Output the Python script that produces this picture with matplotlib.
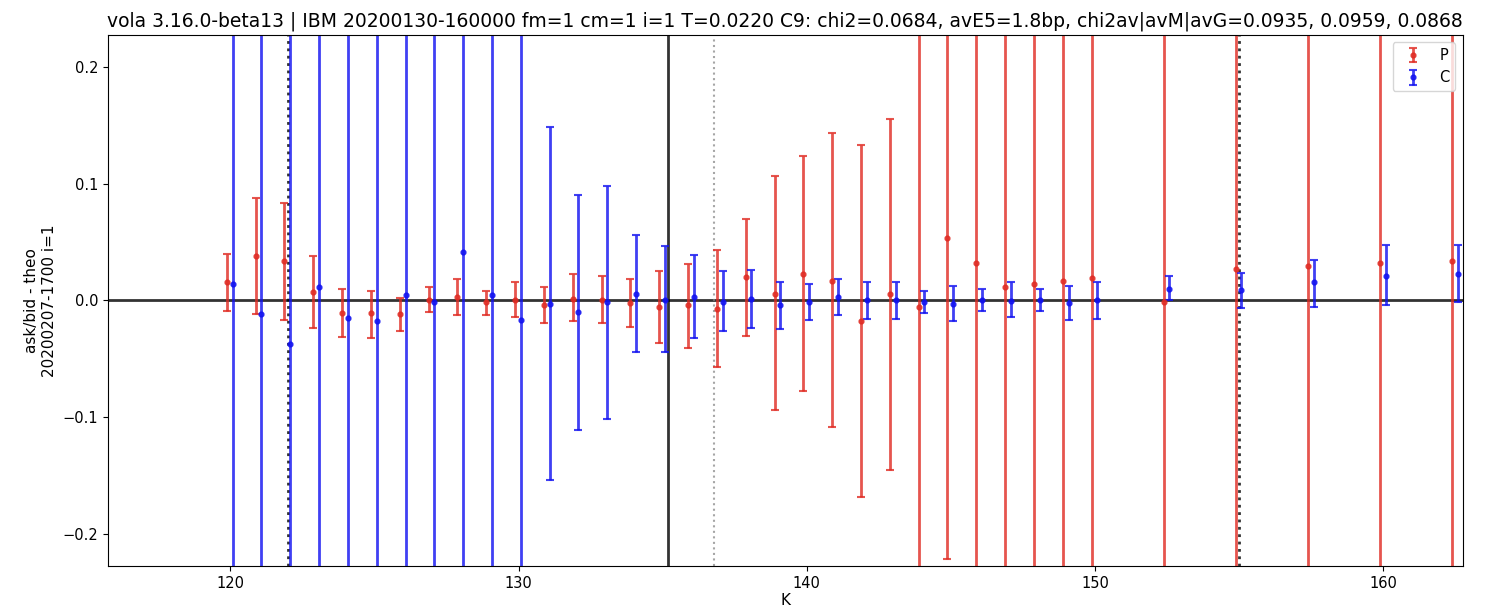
import numpy as np
import matplotlib.pyplot as plt

# strikes
K = [120, 121, 122, 123, 124, 125, 126, 127, 128, 129, 130,
     131, 132, 133, 134, 135, 136, 137, 138, 139, 140,
     141, 142, 143, 144, 145, 146, 147, 148, 149, 150,
     152.5, 155, 157.5, 160, 162.5]

# puts: value, upper bound, lower bound (ask/bid - theo)
p_val = [0.016, 0.038, 0.034, 0.007, -0.011, -0.011, -0.012, 0.0, 0.003, -0.001, 0.0,
         -0.0037, 0.001, 0.0, -0.002, -0.0057, -0.004, -0.0071, 0.0197, 0.0057, 0.0222,
         0.0168, -0.018, 0.0057, -0.0057, 0.053, 0.032, 0.0114, 0.014, 0.0165, 0.0194,
         -0.0014, 0.0265, 0.0293, 0.0322, 0.0333]
p_hi = [0.040, 0.0875, 0.0835, 0.0376, 0.0097, 0.0083, 0.0023, 0.0114, 0.018, 0.0083, 0.0154,
        0.0114, 0.0222, 0.0208, 0.018, 0.025, 0.0308, 0.0433, 0.0698, 0.1068, 0.1234,
        0.143, 0.1333, 0.1556, 0.6, 0.45, 0.6, 0.6, 0.6, 0.6, 0.6,
        0.6, 0.6, 0.6, 0.6, 0.6]
p_lo = [-0.009, -0.012, -0.0165, -0.0237, -0.031, -0.032, -0.026, -0.0097, -0.0125, -0.0125, -0.0142,
        -0.0194, -0.0177, -0.0194, -0.0225, -0.0362, -0.0405, -0.057, -0.0305, -0.094, -0.0778,
        -0.108, -0.168, -0.145, -0.6, -0.221, -0.6, -0.6, -0.6, -0.6, -0.6,
        -0.6, -0.6, -0.6, -0.6, -0.6]

# calls
c_val = [0.0143, -0.012, -0.0376, 0.0114, -0.0151, -0.018, 0.0043, -0.0017, 0.0416, 0.0043, -0.0165,
         -0.0028, -0.0097, -0.0011, 0.0057, 0.0, 0.0028, -0.0014, 0.0009, -0.0037, -0.0014,
         0.0028, 0.0, 0.0006, -0.0014, -0.0028, 0.0, -0.0006, 0.0, -0.0023, 0.0,
         0.0097, 0.0085, 0.0154, 0.021, 0.0225]
c_hi = [0.6, 0.6, 0.6, 0.6, 0.6, 0.6, 0.6, 0.6, 0.6, 0.6, 0.6,
        0.1487, 0.09, 0.0983, 0.0556, 0.0462, 0.039, 0.025, 0.026, 0.0154, 0.0142,
        0.018, 0.0154, 0.0154, 0.0083, 0.0125, 0.0097, 0.0154, 0.0097, 0.0125, 0.0154,
        0.021, 0.0236, 0.0348, 0.0473, 0.0473]
c_lo = [-0.6, -0.6, -0.6, -0.6, -0.6, -0.6, -0.6, -0.6, -0.6, -0.6, -0.6,
        -0.1538, -0.111, -0.101, -0.0442, -0.044, -0.032, -0.026, -0.0237, -0.0248, -0.0165,
        -0.0123, -0.0157, -0.0157, -0.011, -0.018, -0.0091, -0.0142, -0.0091, -0.0165, -0.0157,
        0.0, -0.0063, -0.0057, -0.0043, -0.0017]

spot = 135.2
fwd = 136.78
k_marks = [122, 155]

title = ('vola 3.16.0-beta13 | IBM 20200130-160000 fm=1 cm=1 i=1 T=0.0220 '
         'C9: chi2=0.0684, avE5=1.8bp, chi2av|avM|avG=0.0935, 0.0959, 0.0868')

K = np.array(K)
p_val = np.array(p_val)
c_val = np.array(c_val)
p_err = [p_val - np.array(p_lo), np.array(p_hi) - p_val]
c_err = [c_val - np.array(c_lo), np.array(c_hi) - c_val]

fig = plt.figure(figsize=(14.97, 6.15), dpi=100)
ax = fig.add_axes([0.072, 0.080, 0.905, 0.863])

# reference lines
ax.axhline(0, color='k', lw=2, alpha=0.8, zorder=1)
ax.axvline(spot, color='k', lw=2, alpha=0.8, zorder=1)
ax.axvline(fwd, color='gray', lw=1.5, ls=':', alpha=0.7, zorder=1)
for k in k_marks:
    ax.axvline(k, color='k', lw=2, ls=':', alpha=0.8, zorder=1)

# P slightly left, C slightly right of strike
ax.errorbar(K - 0.12, p_val, yerr=p_err, fmt='.', color='#e02a22', alpha=0.8,
            ms=7, elinewidth=2, capsize=3, capthick=1.5, label='P')
ax.errorbar(K + 0.08, c_val, yerr=c_err, fmt='.', color='#1010f0', alpha=0.8,
            ms=7, elinewidth=2, capsize=3, capthick=1.5, label='C')

ax.set_xlim(115.75, 162.75)
ax.set_ylim(-0.227, 0.227)
ax.set_xticks([120, 130, 140, 150, 160])
ax.set_yticks([-0.2, -0.1, 0.0, 0.1, 0.2])
ax.tick_params(labelsize=10.5)
ax.set_xlabel('K', fontsize=11, labelpad=2)
ax.set_ylabel('ask/bid - theo\n20200207-1700 i=1', fontsize=11)
ax.set_title(title, fontsize=13.5)
ax.legend(loc='upper right', fontsize=10.5)

fig.savefig('out.png', dpi=100)
